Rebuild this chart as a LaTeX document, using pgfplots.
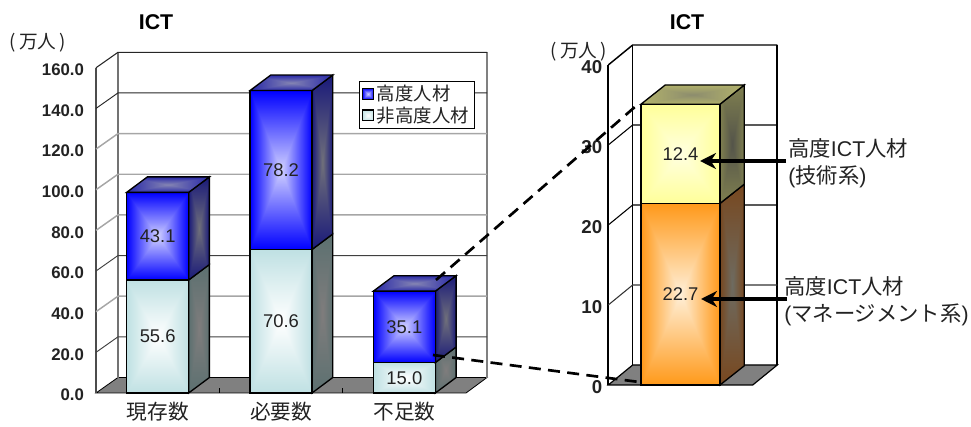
\documentclass[border=0pt]{standalone}
\usepackage{fontspec}
\usepackage{pgfplots}
\pgfplotsset{compat=1.18}
\usetikzlibrary{arrows.meta}
\setmainfont{Liberation Sans}
\newfontfamily\cjk{Noto Sans CJK JP}
\definecolor{txt}{RGB}{34,34,34}
\definecolor{floorgray}{RGB}{128,128,128}

% rectangular gradient: name, edge r g b, centre r g b
\newcommand{\rectshade}[7]{%
  \pgfdeclarefunctionalshading{#1}{\pgfpointorigin}{\pgfpoint{100bp}{100bp}}{}{%
    50 sub abs exch 50 sub abs 2 copy lt {exch} if pop 25 div
    dup 1 gt {pop 1} if
    dup dup
    #4 #7 sub mul #7 add 3 1 roll
    #3 #6 sub mul #6 add exch
    #2 #5 sub mul #5 add 3 1 roll exch
  }}
\rectshade{blueF}{0}{0}{1}{.82}{.82}{1}
\rectshade{blueS}{.10}{.10}{.48}{.44}{.44}{.48}
\rectshade{blueT}{.16}{.16}{.66}{.52}{.52}{.70}
\rectshade{lightF}{.75}{.88}{.89}{1}{1}{1}
\rectshade{lightS}{.36}{.44}{.44}{.50}{.49}{.49}
\rectshade{orangeF}{1}{.60}{.10}{1}{.94}{.85}
\rectshade{orangeS}{.47}{.28}{.12}{.43}{.42}{.38}
\rectshade{yellowF}{1}{1}{.60}{1}{1}{.88}
\rectshade{yellowS}{.50}{.50}{.31}{.33}{.33}{.29}
\rectshade{yellowT}{.70}{.70}{.42}{.55}{.55}{.43}

% centre x, lower y, upper y, front shading, side shading
\newcommand{\barbox}[5]{%
  \pgfmathsetmacro\xl{#1-\halfw}
  \pgfmathsetmacro\xr{#1+\halfw}
  \pgfmathsetmacro\xd{#1+\halfw+\depthx}
  \pgfmathsetmacro\ya{#2+\depthy}
  \pgfmathsetmacro\yb{#3+\depthy}
  \addplot[face, shading=#5, forget plot] coordinates {(\xr,#2)(\xd,\ya)(\xd,\yb)(\xr,#3)} -- cycle;
  \addplot[face, shading=#4, forget plot] coordinates {(\xl,#2)(\xr,#2)(\xr,#3)(\xl,#3)} -- cycle;
}
% centre x, top y, top shading
\newcommand{\bartop}[3]{%
  \pgfmathsetmacro\xl{#1-\halfw}
  \pgfmathsetmacro\xr{#1+\halfw}
  \pgfmathsetmacro\xd{#1+\halfw+\depthx}
  \pgfmathsetmacro\xe{#1-\halfw+\depthx}
  \pgfmathsetmacro\yb{#2+\depthy}
  \addplot[face, shading=#3, forget plot] coordinates {(\xl,#2)(\xr,#2)(\xd,\yb)(\xe,\yb)} -- cycle;
}

\tikzset{face/.style={draw=black, line width=1pt, shade, line join=miter}}
\pgfplotsset{
  chart/.style={
    scale only axis, clip=false,
    axis line style={draw=none}, tick style={draw=none},
    scaled ticks=false, ymin=0,
    /pgf/number format/assume math mode=true,
    tick label style={font=\bfseries\fontsize{12.6}{14}\selectfont, text=txt},
  },
  barlabel/.style={
    only marks, mark=none, forget plot,
    point meta=explicit symbolic, nodes near coords,
    nodes near coords align=center,
    every node near coord/.append style={anchor=center, text=txt, font=\fontsize{13.8}{15}\selectfont},
  },
}

\begin{document}
\begin{tikzpicture}
\path[use as bounding box] (0,0) rectangle (728.25pt,320.25pt);

% left chart
\begin{axis}[chart,
  at={(72pt,25.5pt)}, anchor=south west,
  width=293.25pt, height=255.5pt,
  xmin=-0.5, xmax=2.67, ymax=167.6,
  xtick={0,1,2}, xticklabels={現存数,必要数,不足数},
  ytick={0,20,40,60,80,100,120,140,160},
  /pgf/number format/fixed, /pgf/number format/fixed zerofill,
  /pgf/number format/precision=1, /pgf/number format/1000 sep={},
  yticklabel style={xshift=-5.5pt, yshift=-1.5pt},
  xticklabel style={font=\cjk\fontsize{15.5}{17}\selectfont, text=txt, yshift=-3pt},
  legend style={at={(0.672,0.9166)}, anchor=north west, draw=black, line width=0.6pt,
    font=\cjk\fontsize{13.8}{15}\selectfont, text=txt, inner xsep=2pt, inner ysep=1pt,
    row sep=-1pt, cells={anchor=west}},
  legend image code/.code={\draw[#1] (0pt,-4pt) rectangle (8.5pt,4pt);},
]
\def\halfw{0.2514}\def\depthx{0.168}\def\depthy{7.62}

% floor
\addplot[fill=floorgray, draw=black, line width=0.6pt, forget plot] coordinates {(-0.5,0)(2.5,0)(2.67,7.62)(-0.322,7.62)} -- cycle;
\addplot[black, line width=0.8pt, forget plot] coordinates {(0.5,0)(0.5,2.6)};
\addplot[black, line width=0.8pt, forget plot] coordinates {(1.5,0)(1.5,2.6)};
% walls and grid
\addplot[black!55, line width=1.1pt, forget plot] coordinates {(-0.322,7.62)(-0.322,167.6)};
\addplot[black!50, line width=1.3pt, forget plot] coordinates {(2.67,7.62)(2.67,167.6)};
\addplot[black!70, line width=1.3pt, forget plot] coordinates {(-0.5,0)(-0.5,160)};
\addplot[black!75, line width=0.7pt, forget plot] coordinates {(-0.5,20)(-0.322,27.62)(2.67,27.62)};
\addplot[black!35, line width=1.1pt, forget plot] coordinates {(-0.5,40)(-0.322,47.62)(2.67,47.62)};
\addplot[black!75, line width=0.7pt, forget plot] coordinates {(-0.5,60)(-0.322,67.62)(2.67,67.62)};
\addplot[black!35, line width=1.1pt, forget plot] coordinates {(-0.5,80)(-0.322,87.62)(2.67,87.62)};
\addplot[black!35, line width=1.1pt, forget plot] coordinates {(-0.5,100)(-0.322,107.62)(2.67,107.62)};
\addplot[black!35, line width=1.1pt, forget plot] coordinates {(-0.5,120)(-0.322,127.62)(2.67,127.62)};
\addplot[black!85, line width=0.7pt, forget plot] coordinates {(-0.5,140)(-0.322,147.62)(2.67,147.62)};
\addplot[black!85, line width=0.8pt, forget plot] coordinates {(-0.5,160)(-0.322,167.6)(2.67,167.6)};

% bars
\barbox{0}{0}{55.6}{lightF}{lightS}
\barbox{0}{55.6}{98.7}{blueF}{blueS}
\bartop{0}{98.7}{blueT}
\barbox{1}{0}{70.6}{lightF}{lightS}
\barbox{1}{70.6}{148.8}{blueF}{blueS}
\bartop{1}{148.8}{blueT}
\barbox{2}{0}{15.0}{lightF}{lightS}
\barbox{2}{15.0}{50.1}{blueF}{blueS}
\bartop{2}{50.1}{blueT}

\addplot[barlabel] coordinates {(0,27.8)[55.6] (0,77.15)[43.1] (1,35.3)[70.6] (1,109.7)[78.2] (2,7.5)[15.0] (2,32.55)[35.1]};

\addlegendimage{draw=black, line width=0.8pt, shade, shading=blueF}
\addlegendentry{高度人材}
\addlegendimage{draw=black, line width=0.8pt, shade, shading=lightF}
\addlegendentry{非高度人材}
\end{axis}

% right chart
\begin{axis}[chart,
  at={(456.2pt,31.5pt)}, anchor=south west,
  width=126.75pt, height=255pt,
  xmin=-0.5, xmax=0.67, ymax=42.5,
  xtick=\empty,
  ytick={0,10,20,30,40},
  yticklabel style={xshift=-1pt, yshift=-1.5pt, font=\fontsize{14}{15}\selectfont\bfseries},
]
\def\halfw{0.2735}\def\depthx{0.168}\def\depthy{2.4}

\addplot[fill=floorgray, draw=black, line width=0.9pt, forget plot] coordinates {(-0.5,0)(0.5,0)(0.67,2.5)(-0.331,2.5)} -- cycle;
\addplot[black, line width=0.9pt, forget plot] coordinates {(-0.331,2.5)(-0.331,42.5)};
\addplot[black, line width=1.7pt, forget plot] coordinates {(0.67,2.5)(0.67,42.5)};
\addplot[black, line width=1.3pt, forget plot] coordinates {(-0.5,0)(-0.5,40)};
\addplot[black!80, line width=0.8pt, forget plot] coordinates {(-0.5,10)(-0.331,12.5)(0.67,12.5)};
\addplot[black, line width=0.8pt, forget plot] coordinates {(-0.5,20)(-0.331,22.5)(0.67,22.5)};
\addplot[black, line width=0.8pt, forget plot] coordinates {(-0.5,30)(-0.331,32.5)(0.67,32.5)};
\addplot[black, line width=1.1pt, forget plot] coordinates {(-0.5,40)(-0.331,42.5)(0.67,42.5)};

\barbox{0}{0}{22.7}{orangeF}{orangeS}
\barbox{0}{22.7}{35.1}{yellowF}{yellowS}
\bartop{0}{35.1}{yellowT}

\addplot[barlabel] coordinates {(0,28.9)[12.4] (0,11.35)[22.7]};
\end{axis}

% titles, units, call-outs, in reference pixels
\begin{scope}[shift={(0,320.25pt)}, x=0.75pt, y=-0.75pt, every node/.style={text=txt, inner sep=0pt}]
\node[font=\bfseries\fontsize{16}{17}\selectfont, text=black] at (156,22) {ICT};
\node[font=\bfseries\fontsize{16}{17}\selectfont, text=black] at (687,22) {ICT};
\node[font=\cjk\fontsize{14}{15}\selectfont] at (38,43) {(\,万人\,)};
\node[font=\cjk\fontsize{14}{15}\selectfont] at (579,52) {(\,万人\,)};

\draw[black, line width=2pt, dash pattern=on 9pt off 5.5pt] (436,280) -- (636,106);
\draw[black, line width=2pt, dash pattern=on 9pt off 5.5pt] (433,355) -- (639,382);

\draw[black, line width=3.4pt, -{Stealth[length=12pt,width=12pt]}] (786,161) -- (700,161);
\draw[black, line width=3.4pt, -{Stealth[length=12pt,width=12pt]}] (787,299) -- (701,299);

\node[anchor=west, font=\fontsize{16}{18}\selectfont] at (788,148) {{\cjk 高度}ICT{\cjk 人材}};
\node[anchor=west, font=\fontsize{16}{18}\selectfont] at (788,177) {({\cjk 技術系})};
\node[anchor=west, font=\fontsize{16}{18}\selectfont] at (784,286) {{\cjk 高度}ICT{\cjk 人材}};
\node[anchor=west, font=\fontsize{16}{18}\selectfont] at (784,315) {({\cjk マネージメント系})};
\end{scope}
\end{tikzpicture}
\end{document}
